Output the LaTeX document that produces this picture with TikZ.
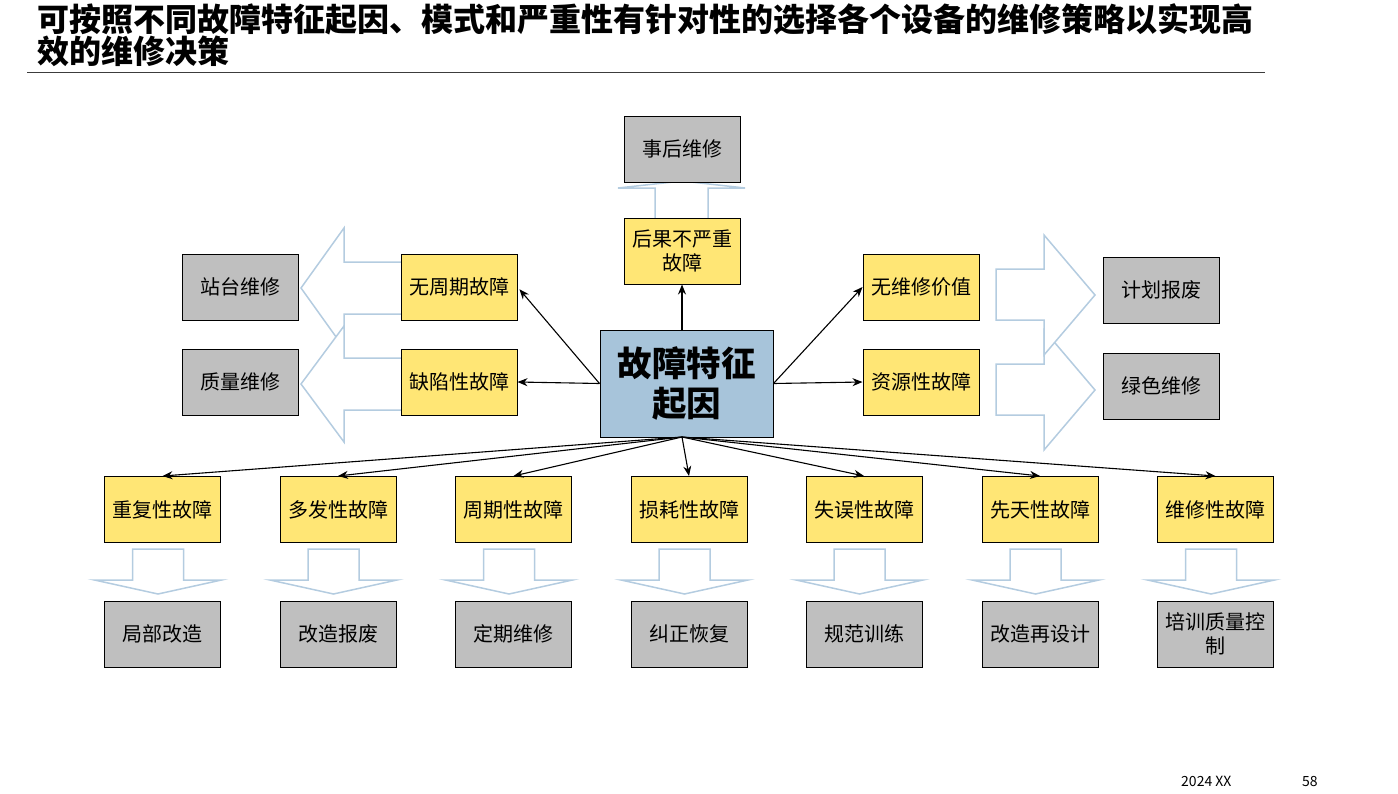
\documentclass[tikz,border=0pt]{standalone}
\usepackage{fontspec}
\setmainfont{Noto Sans CJK SC}
\usetikzlibrary{arrows.meta}
\definecolor{boxyellow}{RGB}{255,230,117}
\definecolor{boxgray}{RGB}{191,191,191}
\definecolor{boxblue}{RGB}{167,196,218}
\definecolor{arrowblue}{RGB}{180,204,224}
\definecolor{rulegray}{RGB}{60,60,60}
\tikzset{
  box/.style={draw=black, line width=1pt, minimum width=116pt, minimum height=66pt, inner sep=0pt, font=\fontsize{20}{24}\selectfont, align=center},
  ybox/.style={box, fill=boxyellow},
  gbox/.style={box, fill=boxgray},
  conn/.style={-{Stealth[length=10pt,width=8pt]}, line width=1.1pt},
  barrow/.style={draw=arrowblue, fill=white, line width=1.5pt, line join=miter},
}
\begin{document}
\begin{tikzpicture}[x=1pt,y=-1pt]
\useasboundingbox (0,0) rectangle (1398,793);
% title
\node[anchor=base west, inner sep=0pt, font=\fontsize{32}{33}\selectfont\bfseries] (t1) at (37,31) {可按照不同故障特征起因、模式和严重性有针对性的选择各个设备的维修策略以实现高};
\node[anchor=base west, inner sep=0pt, font=\fontsize{32}{33}\selectfont\bfseries] (t2) at (37,63) {效的维修决策};
\draw[rulegray, line width=1pt] (27,72) -- (1265,72);

% block arrows
\draw[barrow] (655,225) -- (655,188) -- (618,188) -- (682,181) -- (745,188) -- (708,188) -- (708,225) -- cycle;
\draw[barrow] (410,262) -- (344,262) -- (344,228) -- (301,288) -- (344,348) -- (344,314) -- (410,314) -- cycle;
\draw[barrow] (410,358) -- (344,358) -- (344,326) -- (301,384) -- (344,442) -- (344,410) -- (410,410) -- cycle;
\draw[barrow] (996,364) -- (1044,364) -- (1044,330) -- (1095,390) -- (1044,450) -- (1044,415) -- (996,415) -- cycle;
\draw[barrow] (996,269) -- (1044,269) -- (1044,235) -- (1095,295) -- (1044,355) -- (1044,320) -- (996,320) -- cycle;
\foreach \cx in {162.5,338,513.5,689,864,1040,1215.5}{
  \pgfmathsetmacro\ax{\cx-4.5}
  \draw[barrow] (\ax-25.5,549) -- (\ax+25.5,549) -- (\ax+25.5,580) -- (\ax+63.5,580) -- (\ax,594) -- (\ax-63.5,580) -- (\ax-25.5,580) -- cycle;
}

% nodes
\node[gbox] (sh) at (682,149) {事后维修};
\node[ybox] (hg) at (682,251) {后果不严重\\故障};
\node[box, fill=boxblue, minimum width=173pt, minimum height=107pt, font=\fontsize{34.5}{40}\selectfont\bfseries] (c) at (686.5,383.5) {故障特征\\起因};
\node[ybox] (wz) at (459,287) {无周期故障};
\node[ybox] (qx) at (459,382) {缺陷性故障};
\node[gbox] (zt) at (240,287) {站台维修};
\node[gbox] (zl) at (240,382) {质量维修};
\node[ybox] (wj) at (921,287) {无维修价值};
\node[ybox] (zy) at (921,382) {资源性故障};
\node[gbox] (jh) at (1161,290) {计划报废};
\node[gbox] (ls) at (1161,386) {绿色维修};

\node[ybox] (b1) at (162.5,509.5) {重复性故障};
\node[ybox] (b2) at (338,509.5) {多发性故障};
\node[ybox] (b3) at (513.5,509.5) {周期性故障};
\node[ybox] (b4) at (689,509.5) {损耗性故障};
\node[ybox] (b5) at (864,509.5) {失误性故障};
\node[ybox] (b6) at (1040,509.5) {先天性故障};
\node[ybox] (b7) at (1215.5,509.5) {维修性故障};
\node[gbox] (g1) at (162.5,634) {局部改造};
\node[gbox] (g2) at (338,634) {改造报废};
\node[gbox] (g3) at (513.5,634) {定期维修};
\node[gbox] (g4) at (689,634) {纠正恢复};
\node[gbox] (g5) at (864,634) {规范训练};
\node[gbox] (g6) at (1040,634) {改造再设计};
\node[gbox] (g7) at (1215.5,634) {培训质量控\\制};

% connectors
\coordinate (cs) at (682,437);
\draw[conn] (hg.south |- c.north) -- (hg.south);
\draw[conn, shorten >=3pt] (c.west) -- (wz.east);
\draw[conn] (c.west) -- (qx.east);
\draw[conn] (c.east) -- (wj.west);
\draw[conn] (c.east) -- (zy.west);
\foreach \b in {b1,b2,b3,b4,b5,b6,b7}{
  \draw[conn] (cs) -- (\b.north);
}

% footer
\node[anchor=base west, inner sep=0pt, font=\fontsize{14}{16}\selectfont] (f1) at (1181,786) {2024 XX};
\node[anchor=base west, inner sep=0pt, font=\fontsize{14}{16}\selectfont] (f2) at (1302,786) {58};
\end{tikzpicture}
\end{document}
